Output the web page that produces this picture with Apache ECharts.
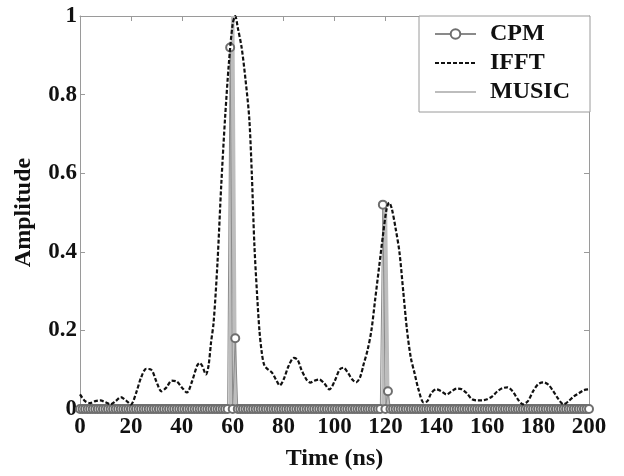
<!DOCTYPE html>
<html>
<head>
<meta charset="utf-8">
<script src="https://cdn.jsdelivr.net/npm/echarts@6/dist/echarts.min.js"></script>
<style>
  html, body { margin: 0; padding: 0; background: #fff; }
  #chart { width: 624px; height: 476px; }
</style>
</head>
<body>
<div id="chart"></div>
<script>
// IFFT response, [time ns, amplitude]
const ifft = [
  [0, 0.037], [2, 0.02], [4, 0.015], [6, 0.02], [8, 0.022], [10, 0.017], [12, 0.012], [14, 0.02],
  [16, 0.03], [18, 0.022], [20, 0.012], [22, 0.04], [24, 0.08], [26, 0.102], [28, 0.1], [30, 0.07],
  [32, 0.045], [34, 0.055], [36, 0.072], [38, 0.07], [40, 0.055], [42, 0.042], [44, 0.07], [46, 0.11],
  [47, 0.117], [48, 0.11], [49.5, 0.088], [50.5, 0.11], [51.5, 0.17], [52.5, 0.22], [54, 0.37],
  [55.5, 0.57], [57, 0.74], [58.5, 0.88], [60, 0.98], [61, 1.0], [62, 0.97], [63.5, 0.92], [65, 0.84],
  [66.5, 0.74], [67.5, 0.6], [68.5, 0.42], [69.5, 0.3], [70.5, 0.2], [71.5, 0.14], [72.5, 0.11],
  [74, 0.1], [75.5, 0.092], [77, 0.075], [78.5, 0.06], [80, 0.075], [82, 0.11], [84, 0.13],
  [85.5, 0.125], [87, 0.1], [89, 0.075], [90.5, 0.067], [92, 0.072], [94, 0.075], [96, 0.065],
  [98, 0.05], [100, 0.07], [102, 0.1], [103.5, 0.105], [105, 0.095], [107, 0.075], [108.5, 0.068],
  [110, 0.08], [111.5, 0.115], [113, 0.15], [114.5, 0.2], [116, 0.28], [117.5, 0.36], [119, 0.44],
  [120.5, 0.51], [121.5, 0.525], [122.5, 0.51], [124, 0.46], [125.5, 0.4], [127, 0.3], [128.5, 0.2],
  [130, 0.13], [131.5, 0.09], [133, 0.05], [135, 0.017], [136.5, 0.02], [138, 0.04], [140, 0.05],
  [142, 0.045], [144, 0.037], [146, 0.045], [148, 0.052], [150, 0.05], [152, 0.04], [154, 0.025],
  [156, 0.022], [158, 0.022], [160, 0.025], [162, 0.032], [164, 0.045], [166, 0.053], [168, 0.055],
  [170, 0.045], [172, 0.025], [174, 0.012], [176, 0.02], [178, 0.045], [180, 0.063], [182, 0.068],
  [184, 0.062], [186, 0.045], [188, 0.025], [190, 0.012], [192, 0.02], [194, 0.032], [196, 0.04],
  [198, 0.048], [200, 0.05]
]

// CPM, one value per ns from 0 to 200
const cpm = [
  0, 0, 0, 0, 0, 0, 0, 0, 0, 0, 0, 0, 0, 0, 0, 0, 0, 0, 0, 0,
  0, 0, 0, 0, 0, 0, 0, 0, 0, 0, 0, 0, 0, 0, 0, 0, 0, 0, 0, 0,
  0, 0, 0, 0, 0, 0, 0, 0, 0, 0, 0, 0, 0, 0, 0, 0, 0, 0, 0, 0.92,
  0, 0.18, 0, 0, 0, 0, 0, 0, 0, 0, 0, 0, 0, 0, 0, 0, 0, 0, 0, 0,
  0, 0, 0, 0, 0, 0, 0, 0, 0, 0, 0, 0, 0, 0, 0, 0, 0, 0, 0, 0,
  0, 0, 0, 0, 0, 0, 0, 0, 0, 0, 0, 0, 0, 0, 0, 0, 0, 0, 0, 0.52,
  0, 0.045, 0, 0, 0, 0, 0, 0, 0, 0, 0, 0, 0, 0, 0, 0, 0, 0, 0, 0,
  0, 0, 0, 0, 0, 0, 0, 0, 0, 0, 0, 0, 0, 0, 0, 0, 0, 0, 0, 0,
  0, 0, 0, 0, 0, 0, 0, 0, 0, 0, 0, 0, 0, 0, 0, 0, 0, 0, 0, 0,
  0, 0, 0, 0, 0, 0, 0, 0, 0, 0, 0, 0, 0, 0, 0, 0, 0, 0, 0, 0,
  0
]

// MUSIC spectrum, [time ns, amplitude]
const music = [
  [0, 0], [59, 0], [60, 1.0], [61, 0], [119, 0], [120, 0.51], [121, 0], [200, 0]
]

const font = 'Liberation Serif'
const axisGray = '#9a9a9a'
const textBold = { fontFamily: font, fontWeight: 'bold', color: '#111' }

const chart = echarts.init(document.getElementById('chart'))

const frameAxis = {
  type: 'value',
  axisLine: { show: true, onZero: false, lineStyle: { color: axisGray } },
  axisTick: { show: true, inside: true, length: 5, lineStyle: { color: axisGray } },
  axisLabel: { show: false },
  splitLine: { show: false }
}

chart.setOption({
  animation: false,
  grid: { left: 80, right: 35, top: 16, bottom: 59 },
  legend: {
    orient: 'vertical',
    left: 419,
    top: 16,
    padding: [6, 20, 8, 15],
    itemWidth: 41,
    itemHeight: 12,
    itemGap: 5,
    backgroundColor: '#fff',
    borderColor: axisGray,
    borderWidth: 1,
    textStyle: Object.assign({ fontSize: 24, padding: [0, 0, 0, 9] }, textBold),
    data: [
      { name: 'CPM' },
      { name: 'IFFT', itemStyle: { opacity: 0 } },
      { name: 'MUSIC', itemStyle: { opacity: 0 } }
    ]
  },
  xAxis: [{
    type: 'value',
    min: 0,
    max: 200,
    interval: 20,
    name: 'Time (ns)',
    nameLocation: 'middle',
    nameGap: 38,
    nameTextStyle: Object.assign({ fontSize: 24 }, textBold),
    axisLine: { lineStyle: { color: axisGray } },
    axisTick: { inside: true, length: 5, lineStyle: { color: axisGray } },
    axisLabel: Object.assign({ margin: 7, fontSize: 23 }, textBold),
    splitLine: { show: false }
  }, Object.assign({}, frameAxis, { position: 'top', min: 0, max: 200, interval: 20 })],
  yAxis: [{
    type: 'value',
    min: 0,
    max: 1,
    interval: 0.2,
    name: 'Amplitude',
    nameLocation: 'middle',
    nameGap: 44,
    nameTextStyle: Object.assign({ fontSize: 24 }, textBold),
    axisLine: { show: true, lineStyle: { color: axisGray } },
    axisTick: { show: true, inside: true, length: 5, lineStyle: { color: axisGray } },
    axisLabel: Object.assign({ margin: 3, fontSize: 23 }, textBold),
    splitLine: { show: false }
  }, Object.assign({}, frameAxis, { position: 'right', min: 0, max: 1, interval: 0.2 })],
  series: [{
    name: 'CPM',
    type: 'line',
    data: cpm.map((v, i) => [i, v]),
    symbol: 'emptyCircle',
    symbolSize: 8,
    showAllSymbol: true,
    lineStyle: { color: '#8a8a8a', width: 1 },
    itemStyle: { color: '#6e6e6e', borderColor: '#6e6e6e', borderWidth: 1.4 },
    z: 3
  }, {
    name: 'IFFT',
    type: 'line',
    data: ifft,
    symbol: 'none',
    smooth: 0.3,
    lineStyle: { color: '#111', width: 2.2, type: [4, 2] },
    itemStyle: { color: '#111' },
    z: 4
  }, {
    name: 'MUSIC',
    type: 'line',
    data: music,
    symbol: 'none',
    lineStyle: { color: '#bdbdbd', width: 3.5 },
    itemStyle: { color: '#bdbdbd' },
    z: 2
  }]
})
</script>
</body>
</html>
